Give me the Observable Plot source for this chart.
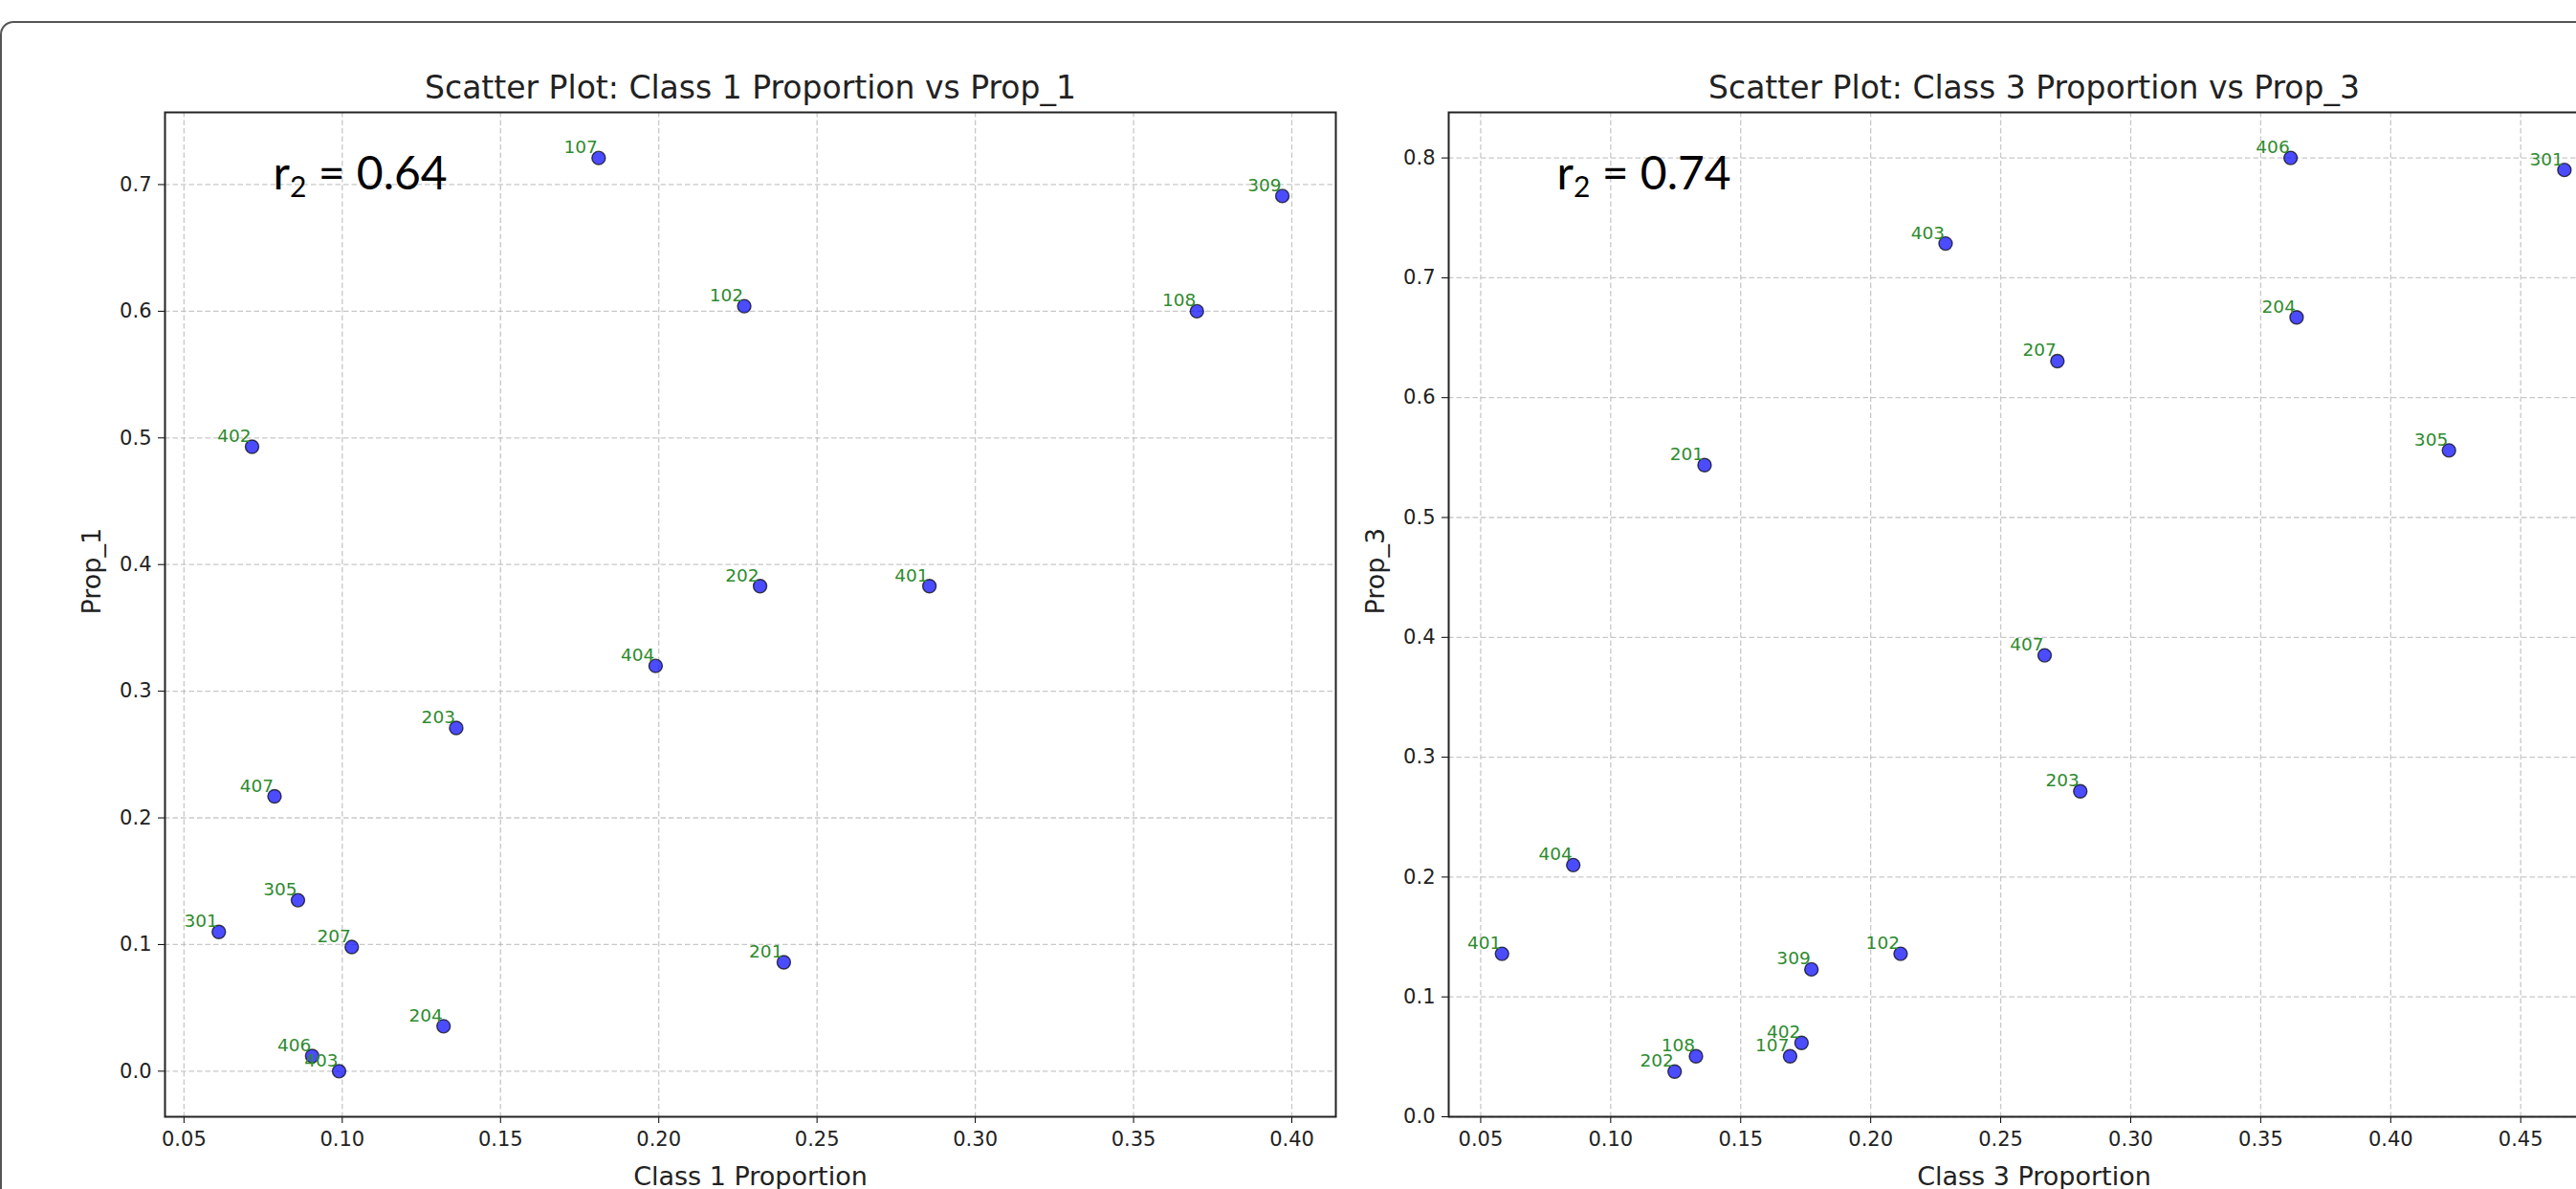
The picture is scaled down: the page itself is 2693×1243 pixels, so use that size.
<!DOCTYPE html>
<html><head><meta charset="utf-8">
<script src="https://cdn.jsdelivr.net/npm/d3@7"></script>
<script src="https://cdn.jsdelivr.net/npm/@observablehq/plot@0.6"></script>
<style>
html,body{margin:0;padding:0;background:#fff;overflow:hidden;width:2693px;height:1243px;}
#border{position:absolute;left:0;top:22px;width:3000px;height:1400px;border:2px solid #555;border-radius:14px;box-sizing:border-box;}
#left{position:absolute;left:0;top:0;width:1400px;}
#right{position:absolute;left:1400px;top:0;width:1348px;}
</style></head><body>
<div id="border"></div>
<div id="left"></div><div id="right"></div>
<script>
// sample ids
const ids    = ["102","107","108","201","202","203","204","207","301","305","309","401","402","403","404","406","407"];
// Class 1 proportion vs Prop_1
const class1 = [0.227,0.181,0.370,0.2395,0.232,0.136,0.132,0.103,0.061,0.086,0.397,0.2855,0.0715,0.099,0.199,0.0905,0.0786];
const prop1  = [0.604,0.721,0.600,0.086,0.383,0.271,0.0355,0.098,0.110,0.135,0.691,0.383,0.493,0.000,0.320,0.012,0.217];
// Class 3 proportion vs Prop_3
const class3 = [0.2115,0.169,0.1328,0.1361,0.1246,0.2806,0.3638,0.2718,0.4668,0.4224,0.1772,0.0582,0.1734,0.2288,0.0856,0.3615,0.2669];
const prop3  = [0.136,0.0505,0.0505,0.5437,0.0377,0.2716,0.667,0.6305,0.790,0.556,0.123,0.136,0.0617,0.7286,0.210,0.800,0.385];
// ticks
const xTicks1 = [0.05,0.10,0.15,0.20,0.25,0.30,0.35,0.40];
const yTicks1 = [0.0,0.1,0.2,0.3,0.4,0.5,0.6,0.7];
const xTicks3 = [0.05,0.10,0.15,0.20,0.25,0.30,0.35,0.40,0.45];
const yTicks3 = [0.0,0.1,0.2,0.3,0.4,0.5,0.6,0.7,0.8];
// axis limits
const xLim1 = [0.044,0.4139], yLim1 = [-0.036,0.757];
const xLim3 = [0.0377,0.488], yLim3 = [0.0,0.838];
// texts
const titles = ["Scatter Plot: Class 1 Proportion vs Prop_1","Scatter Plot: Class 3 Proportion vs Prop_3"];
const xLabels = ["Class 1 Proportion","Class 3 Proportion"];
const yLabels = ["Prop_1","Prop_3"];
const r2Values = ["0.64","0.74"];

function makePlot({xs, ys, xDomain, yDomain, xTicks, yTicks, title, xLabel, yLabel, r2, width, marginLeft, marginRight}) {
  const data = ids.map((id,i)=>({id, x: xs[i], y: ys[i]}));
  const gridStyle = {stroke:"#b0b0b0", strokeOpacity:0.7, strokeDasharray:"5.5,3", strokeWidth:1.3};
  const svg = Plot.plot({
    width, height: 1243, marginLeft, marginRight, marginTop: 117, marginBottom: 76,
    x: {domain: xDomain}, y: {domain: yDomain},
    style: {fontFamily: "DejaVu Sans", fontSize: "21px", color:"#000", background:"transparent", maxWidth:"none"},
    marks: [
      Plot.gridX(xTicks, gridStyle),
      Plot.gridY(yTicks, gridStyle),
      Plot.axisX(xTicks, {tickSize:7, tickPadding:9, tickFormat: d3.format(".2f"), label: null, stroke:"#000", fill:"#222"}),
      Plot.axisY(yTicks, {tickSize:7, tickPadding:7, tickFormat: d3.format(".1f"), label: null, stroke:"#000", fill:"#222"}),
      Plot.frame({stroke:"#222", strokeWidth:2}),
      Plot.dot(data, {x:"x", y:"y", r:7, fill:"blue", fillOpacity:0.7, stroke:"black", strokeOpacity:0.7, strokeWidth:1.4}),
      Plot.text(data, {x:"x", y:"y", text:"id", textAnchor:"end", lineAnchor:"bottom", dx:-1, dy:-5, fill:"#2e8b2e", fontSize:18.5}),
      Plot.text([title], {frameAnchor:"top", lineAnchor:"bottom", dy:-15, fontSize:33, fill:"#222"}),
      Plot.text([xLabel], {frameAnchor:"bottom", lineAnchor:"top", dy:52, fontSize:27, fill:"#222"}),
      Plot.text([yLabel], {frameAnchor:"left", rotate:-90, dx:-76, fontSize:27, fill:"#222"}),
      Plot.text(["r2 = " + r2], {frameAnchor:"top-left", textAnchor:"start", lineAnchor:"bottom", dx:113, dy:80, fontSize:48, fontFamily:"Lato", fill:"#000"})
    ]
  });
  // subscript for r2 annotation
  d3.select(svg).selectAll("text").filter(function(){ return this.textContent === "r2 = " + r2; })
    .each(function(){
      const t = d3.select(this);
      t.text(null);
      t.append("tspan").text("r");
      t.append("tspan").attr("font-size", "30px").attr("dy", "8").text("2");
      t.append("tspan").attr("dy", "-8").text(" = " + r2);
    });
  return svg;
}

document.getElementById("left").appendChild(makePlot({
  xs: class1, ys: prop1, xDomain: xLim1, yDomain: yLim1, xTicks: xTicks1, yTicks: yTicks1,
  title: titles[0], xLabel: xLabels[0], yLabel: yLabels[0], r2: r2Values[0],
  width: 1400, marginLeft: 172, marginRight: 4
}));
document.getElementById("right").appendChild(makePlot({
  xs: class3, ys: prop3, xDomain: xLim3, yDomain: yLim3, xTicks: xTicks3, yTicks: yTicks3,
  title: titles[1], xLabel: xLabels[1], yLabel: yLabels[1], r2: r2Values[1],
  width: 1348, marginLeft: 114, marginRight: 10
}));
</script>
</body></html>
